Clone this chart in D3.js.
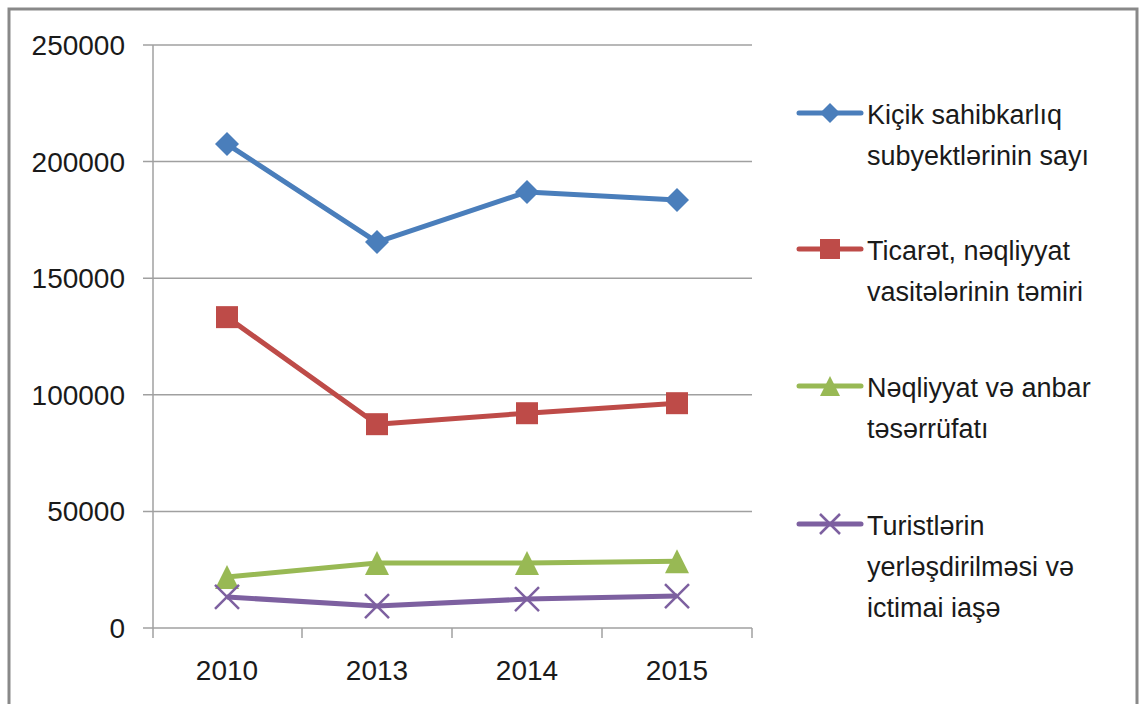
<!DOCTYPE html>
<html>
<head>
<meta charset="utf-8">
<script src="https://cdn.jsdelivr.net/npm/d3@7"></script>
<style>
  body { margin: 0; background: #fff; }
  svg text { font-family: "Liberation Sans", Arial, sans-serif; fill: #1a1a1a; }
</style>
</head>
<body>
<svg id="chart" width="1143" height="704"></svg>
<script>
// data
var years = ["2010", "2013", "2014", "2015"];
var yTicks = [0, 50000, 100000, 150000, 200000, 250000];
var kicik = [207500, 165500, 187000, 183500];
var ticaret = [133300, 87400, 92100, 96400];
var neqliyyat = [21900, 27900, 27900, 28600];
var turist = [13300, 9400, 12400, 13700];
var seriesNames = [
    ["Kiçik sahibkarlıq", "subyektlərinin sayı"],
    ["Ticarət, nəqliyyat", "vasitələrinin təmiri"],
    ["Nəqliyyat və anbar", "təsərrüfatı"],
    ["Turistlərin", "yerləşdirilməsi və", "ictimai iaşə"]
];
var colors = ["#4a7ebb", "#be4b48", "#98b954", "#7d60a0"];
var markers = ["diamond", "square", "triangle", "cross"];

var series = [kicik, ticaret, neqliyyat, turist].map(function (vals, i) {
    return { name: seriesNames[i], values: vals, color: colors[i], marker: markers[i] };
});

var svg = d3.select("#chart");

// outer frame
svg.append("rect")
    .attr("x", 9).attr("y", 9)
    .attr("width", 1128).attr("height", 720)
    .attr("fill", "none")
    .attr("stroke", "#898989")
    .attr("stroke-width", 3);

var x = d3.scaleBand().domain(years).range([152, 752]);
var y = d3.scaleLinear().domain([0, 250000]).range([628, 45]);

// gridlines + y ticks
svg.append("g").selectAll("line")
    .data(yTicks)
    .enter().append("line")
    .attr("x1", 143).attr("x2", 752)
    .attr("y1", function (d) { return y(d); })
    .attr("y2", function (d) { return y(d); })
    .attr("stroke", "#a0a0a0")
    .attr("stroke-width", 1.5);

svg.append("line")
    .attr("x1", 153).attr("x2", 153)
    .attr("y1", y(250000)).attr("y2", 638)
    .attr("stroke", "#a0a0a0").attr("stroke-width", 1.5);

// x ticks at band edges
var edges = years.map(function (d) { return x(d); }).concat([x.range()[1]]);
svg.append("g").selectAll("line")
    .data(edges.slice(1))
    .enter().append("line")
    .attr("x1", function (d) { return d; }).attr("x2", function (d) { return d; })
    .attr("y1", 628).attr("y2", 638)
    .attr("stroke", "#a0a0a0").attr("stroke-width", 1.5);

svg.append("g").selectAll("text")
    .data(yTicks)
    .enter().append("text")
    .attr("x", 125)
    .attr("y", function (d) { return y(d) + 10; })
    .attr("text-anchor", "end")
    .attr("font-size", 28)
    .text(function (d) { return d; });

svg.append("g").selectAll("text")
    .data(years)
    .enter().append("text")
    .attr("x", function (d) { return x(d) + x.bandwidth() / 2; })
    .attr("y", 680)
    .attr("text-anchor", "middle")
    .attr("font-size", 28)
    .text(function (d) { return d; });

function markerPath(type, size) {
    var s = size / 2;
    if (type === "diamond") return "M0," + (-s) + "L" + s + ",0L0," + s + "L" + (-s) + ",0Z";
    if (type === "square") return "M" + (-s) + "," + (-s) + "h" + size + "v" + size + "h" + (-size) + "Z";
    if (type === "triangle") return "M0," + (-s) + "L" + s + "," + s + "L" + (-s) + "," + s + "Z";
    return "M" + (-s) + "," + (-s) + "L" + s + "," + s + "M" + s + "," + (-s) + "L" + (-s) + "," + s;
}

function drawMarker(g, type, color, size) {
    var p = g.append("path").attr("d", markerPath(type, size));
    if (type === "cross") p.attr("fill", "none").attr("stroke", color).attr("stroke-width", 2.5);
    else p.attr("fill", color);
}

var line = d3.line()
    .x(function (d, i) { return x(years[i]) + x.bandwidth() / 2; })
    .y(function (d) { return y(d); });

series.forEach(function (s) {
    svg.append("path")
        .datum(s.values)
        .attr("d", line)
        .attr("fill", "none")
        .attr("stroke", s.color)
        .attr("stroke-width", 5)
        .attr("stroke-linejoin", "round");
    s.values.forEach(function (v, i) {
        var g = svg.append("g")
            .attr("transform", "translate(" + (x(years[i]) + x.bandwidth() / 2) + "," + y(v) + ")");
        drawMarker(g, s.marker, s.color, s.marker === "square" ? 22 : 24);
    });
});

// legend
var legendTop = [113, 249, 386, 524];
var legend = svg.append("g");
series.forEach(function (s, i) {
    var g = legend.append("g").attr("transform", "translate(0," + legendTop[i] + ")");
    g.append("line")
        .attr("x1", 799).attr("x2", 861)
        .attr("y1", 0).attr("y2", 0)
        .attr("stroke", s.color).attr("stroke-width", 5)
        .attr("stroke-linecap", "round");
    var m = g.append("g").attr("transform", "translate(830,0)");
    drawMarker(m, s.marker, s.color, 20);
    s.name.forEach(function (t, j) {
        g.append("text")
            .attr("x", 867)
            .attr("y", 11 + j * 41)
            .attr("font-size", 27)
            .text(t);
    });
});
</script>
</body>
</html>
